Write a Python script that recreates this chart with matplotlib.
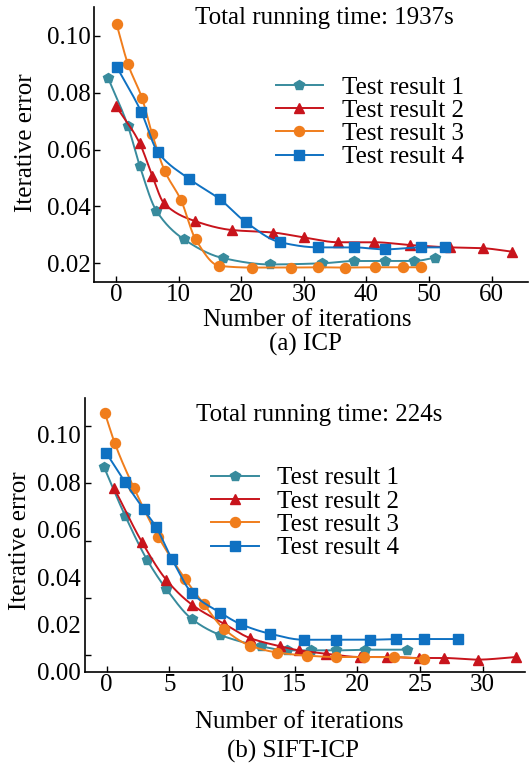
import numpy as np
import matplotlib
matplotlib.use("Agg")
import matplotlib.pyplot as plt
from matplotlib.ticker import FormatStrFormatter, FixedLocator

plt.rcParams["font.family"] = ["Liberation Serif", "DejaVu Serif"]
FS = 18

# ---------------- data ----------------
# (a) ICP
icp_x1 = [-1.23, 1.90, 3.79, 6.44, 10.88, 17.14, 24.60, 32.97, 37.96, 42.97, 47.62, 50.93]
icp_y1 = [0.0850, 0.0683, 0.0543, 0.0385, 0.0284, 0.0218, 0.0196, 0.0200, 0.0208, 0.0208, 0.0208, 0.0220]
icp_x2 = [0.0, 3.79, 5.78, 7.68, 12.54, 18.5, 25.14, 29.95, 35.51, 41.2, 47.03, 53.35, 58.59, 63.19]
icp_y2 = [0.0753, 0.0622, 0.0508, 0.0411, 0.0349, 0.0317, 0.0308, 0.0291, 0.0274, 0.0274, 0.0264, 0.0256, 0.0253, 0.0241]
icp_x3 = [0.11, 1.90, 4.17, 5.78, 7.80, 10.38, 12.72, 16.48, 21.74, 27.96, 32.27, 36.6, 41.29, 45.9, 48.75]
icp_y3 = [0.1040, 0.0901, 0.0780, 0.0654, 0.0524, 0.0422, 0.0284, 0.0191, 0.0185, 0.0185, 0.0186, 0.0185, 0.0186, 0.0186, 0.0186]
icp_x4 = [0.11, 4.06, 6.66, 11.74, 16.6, 20.77, 26.21, 32.27, 37.96, 42.97, 48.75, 52.59]
icp_y4 = [0.0891, 0.0731, 0.0592, 0.0496, 0.0425, 0.0344, 0.0274, 0.0256, 0.0256, 0.0249, 0.0256, 0.0256]

# (b) SIFT-ICP
sift_x1 = [-0.21, 1.47, 3.22, 4.76, 6.81, 9.02, 12.34, 14.36, 16.3, 18.27, 20.61, 23.99]
sift_y1 = [0.0864, 0.0659, 0.0473, 0.0349, 0.0222, 0.0156, 0.0107, 0.0090, 0.0090, 0.0090, 0.0093, 0.0093]
sift_x2 = [0.6, 2.82, 4.76, 6.81, 9.35, 11.44, 13.87, 15.36, 17.52, 20.22, 22.37, 24.93, 26.9, 29.6, 32.67]
sift_y2 = [0.0775, 0.0547, 0.0388, 0.0283, 0.0203, 0.0142, 0.0107, 0.0090, 0.0076, 0.0062, 0.0062, 0.0058, 0.0058, 0.0051, 0.0062]
sift_x3 = [-0.15, 0.65, 2.16, 4.11, 6.27, 7.73, 9.35, 11.44, 13.61, 15.98, 18.32, 20.57, 22.91, 25.34]
sift_y3 = [0.1094, 0.0965, 0.0778, 0.0571, 0.0391, 0.0287, 0.0181, 0.0110, 0.0081, 0.0068, 0.0062, 0.0062, 0.0062, 0.0054]
sift_x4 = [-0.02, 1.47, 2.95, 3.95, 5.19, 6.81, 9.07, 10.69, 13.06, 15.71, 18.32, 21.02, 23.05, 25.34, 28.06]
sift_y4 = [0.0923, 0.0800, 0.0686, 0.0610, 0.0477, 0.0332, 0.0249, 0.0201, 0.0160, 0.0135, 0.0135, 0.0135, 0.0138, 0.0138, 0.0138]

labels = ["Test result 1", "Test result 2", "Test result 3", "Test result 4"]
colors = ["#388b9d", "#c8141c", "#f07d1c", "#0f71c2"]
markers = ["p", "^", "o", "s"]
msizes = [7.5, 7.5, 7.2, 7.0]


# ---------------- helpers ----------------
def pchip(x, y, n=25):
    # monotone cubic curve through the points, only for drawing the line
    x = np.asarray(x, float); y = np.asarray(y, float)
    h = np.diff(x); d = np.diff(y) / h
    m = np.zeros_like(y)
    m[0], m[-1] = d[0], d[-1]
    for k in range(1, len(x) - 1):
        if d[k - 1] * d[k] > 0:
            w1, w2 = 2 * h[k] + h[k - 1], h[k] + 2 * h[k - 1]
            m[k] = (w1 + w2) / (w1 / d[k - 1] + w2 / d[k])
    xs, ys = [], []
    for k in range(len(x) - 1):
        t = np.linspace(0, 1, n, endpoint=False)
        h00 = 2 * t**3 - 3 * t**2 + 1; h10 = t**3 - 2 * t**2 + t
        h01 = -2 * t**3 + 3 * t**2; h11 = t**3 - t**2
        xs.append(x[k] + t * h[k])
        ys.append(h00 * y[k] + h10 * h[k] * m[k] + h01 * y[k + 1] + h11 * h[k] * m[k + 1])
    xs.append([x[-1]]); ys.append([y[-1]])
    return np.concatenate(xs), np.concatenate(ys)


def style(ax):
    for s in ["top", "right"]:
        ax.spines[s].set_visible(False)
    for s in ["left", "bottom"]:
        ax.spines[s].set_linewidth(1.2)
    ax.tick_params(direction="in", length=4, width=1.0, labelsize=FS, pad=2)
    ax.yaxis.set_major_formatter(FormatStrFormatter("%.2f"))


def draw(ax, xs, ys):
    for x, y, lab, c, mk, ms in zip(xs, ys, labels, colors, markers, msizes):
        sx, sy = pchip(x, y)
        ax.plot(sx, sy, color=c, lw=1.4)
        ax.plot(x, y, ls="none", marker=mk, ms=ms, color=c, mec=c)
        ax.plot([], [], color=c, lw=1.4, marker=mk, ms=ms, mec=c, label=lab)


W, H = 530, 769
fig = plt.figure(figsize=(W / 100, H / 100), dpi=100)
fx = lambda p: p / W
fy = lambda p: 1 - p / H

# ---------------- (a) ICP ----------------
ax1 = fig.add_axes([fx(94), fy(281.7), (528 - 94) / W, (281.7 - 7) / H])
draw(ax1, [icp_x1, icp_x2, icp_x3, icp_x4], [icp_y1, icp_y2, icp_y3, icp_y4])
ax1.set_xlim(-3.51, 65.8)
ax1.set_ylim(0.01353, 0.1101)
ax1.set_xticks([0, 10, 20, 30, 40, 50, 60])
ax1.set_yticks([0.02, 0.04, 0.06, 0.08, 0.10])
style(ax1)
ax1.legend(loc="upper left", bbox_to_anchor=(fx(275.7), fy(76)), bbox_transform=fig.transFigure,
           frameon=False, fontsize=FS, handlelength=1.9, handletextpad=0.75,
           labelspacing=0.03, borderpad=0, borderaxespad=0)

fig.text(fx(324.8), fy(18), "Total running time: 1937s", fontsize=FS, ha="center", va="center")
fig.text(fx(307.5), fy(320), "Number of iterations", fontsize=FS, ha="center", va="center")
fig.text(fx(305), fy(344), "(a) ICP", fontsize=FS, ha="center", va="center")
fig.text(fx(26), fy(143), "Iterative error", fontsize=FS, ha="center", va="center", rotation=90)

# ---------------- (b) SIFT-ICP ----------------
ax2 = fig.add_axes([fx(85), fy(671.7), (525 - 85) / W, (671.7 - 398.3) / H])
draw(ax2, [sift_x1, sift_x2, sift_x3, sift_x4], [sift_y1, sift_y2, sift_y3, sift_y4])
ax2.set_xlim(-1.73, 33.38)
ax2.set_ylim(0, 0.1155)
ax2.set_xticks([0, 5, 10, 15, 20, 25, 30])
ax2.set_yticks([0.0, 0.02, 0.04, 0.06, 0.08, 0.10])
style(ax2)
ax2.tick_params(axis="y", which="major", length=0, pad=3)
ax2.yaxis.set_minor_locator(FixedLocator([0.0072, 0.0311, 0.0553, 0.0796, 0.1039]))
ax2.tick_params(axis="y", which="minor", direction="in", length=4, width=1.0)
ax2.legend(loc="upper left", bbox_to_anchor=(fx(211), fy(467)), bbox_transform=fig.transFigure,
           frameon=False, fontsize=FS, handlelength=1.9, handletextpad=0.75,
           labelspacing=0.03, borderpad=0, borderaxespad=0)

fig.text(fx(318.7), fy(415), "Total running time: 224s", fontsize=FS, ha="center", va="center")
fig.text(fx(299), fy(721.7), "Number of iterations", fontsize=FS, ha="center", va="center")
fig.text(fx(293), fy(751.7), "(b) SIFT-ICP", fontsize=FS, ha="center", va="center")
fig.text(fx(20), fy(541), "Iterative error", fontsize=FS, ha="center", va="center", rotation=90)

fig.savefig("out.png", dpi=100)
